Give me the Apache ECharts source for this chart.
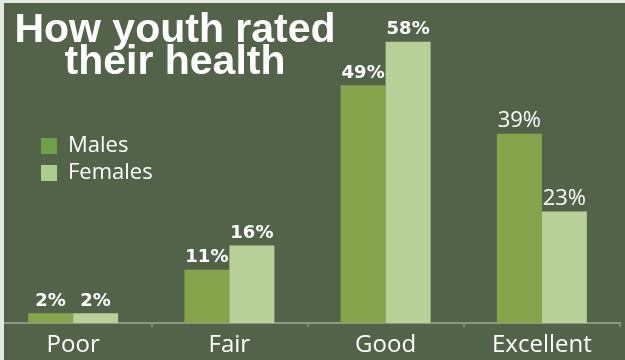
<!DOCTYPE html>
<html>
<head>
<meta charset="utf-8">
<script src="https://cdn.jsdelivr.net/npm/echarts@6/dist/echarts.min.js"></script>
<style>
  html, body { margin: 0; padding: 0; background: #e4e9df; }
  #wrap { position: relative; width: 625px; height: 360px; overflow: hidden; background: #52634a; }
  #main { position: absolute; left: -5px; top: 0; width: 630px; height: 360px; }
  .edge { position: absolute; background: #e4e9df; z-index: 5; }
</style>
</head>
<body>
<div id="wrap">
  <div id="main"></div>
  <div class="edge" style="left:0;top:0;width:4px;height:360px"></div>
  <div class="edge" style="left:0;top:0;width:625px;height:3px"></div>
</div>
<script>
// youth self-rated health, % by sex
var categories = ['Poor', 'Fair', 'Good', 'Excellent']
var males = [2, 11, 49, 39]
var females = [2, 16, 58, 23]

var maleColor = '#86a44c'
var femaleColor = '#b9cf98'

function labelled (vals) {
  var out = []
  for (var i = 0; i < vals.length; i++) {
    var item = { value: vals[i] }
    // the Excellent labels use a lighter face in the original
    if (categories[i] === 'Excellent') {
      item.label = { fontFamily: 'Open Sans', fontWeight: 'normal', fontSize: 22, distance: 2 }
    }
    out.push(item)
  }
  return out
}

var barLabel = {
  show: true,
  position: 'top',
  distance: 3,
  color: '#ffffff',
  fontFamily: 'DejaVu Sans',
  fontWeight: 'bold',
  fontSize: 18,
  formatter: '{c}%'
}

var chart = echarts.init(document.getElementById('main'))

var option = {
  backgroundColor: '#52634a',
  animation: false,
  graphic: [{
    type: 'text',
    x: 175 + 5,
    y: 15,
    style: {
      text: 'How youth rated\ntheir health',
      font: 'bold 41px "Liberation Sans"',
      fill: '#ffffff',
      textAlign: 'center',
      textVerticalAlign: 'top',
      lineHeight: 32
    }
  }],
  legend: {
    orient: 'vertical',
    left: 41 + 5,
    top: 135,
    padding: 0,
    itemWidth: 16,
    itemHeight: 16,
    itemGap: 5,
    icon: 'rect',
    data: [
      { name: 'Males', itemStyle: { color: '#6f9f47' } },
      { name: 'Females', itemStyle: { color: '#a8cf8c' } }
    ],
    textStyle: {
      color: '#ffffff',
      fontFamily: 'Open Sans',
      fontSize: 22,
      lineHeight: 16,
      padding: [0, 0, 0, 6]
    }
  },
  grid: { left: 0, right: 5, top: 32, bottom: 37 },
  xAxis: {
    type: 'category',
    data: categories,
    axisLine: { lineStyle: { color: '#8e9985', width: 2 } },
    axisTick: { show: true, length: 4, lineStyle: { color: '#8e9985', width: 1.5 } },
    axisLabel: {
      color: '#ffffff',
      fontFamily: 'Open Sans',
      fontSize: 24,
      margin: 10
    }
  },
  yAxis: {
    type: 'value',
    min: 0,
    max: 60,
    show: false,
    splitLine: { show: false }
  },
  series: [
    {
      name: 'Males',
      type: 'bar',
      data: labelled(males),
      barWidth: 45,
      barGap: '0%',
      itemStyle: { color: maleColor },
      label: barLabel
    },
    {
      name: 'Females',
      type: 'bar',
      data: labelled(females),
      barWidth: 45,
      barGap: '0%',
      itemStyle: { color: femaleColor },
      label: barLabel
    }
  ]
}

chart.setOption(option)
</script>
</body>
</html>
